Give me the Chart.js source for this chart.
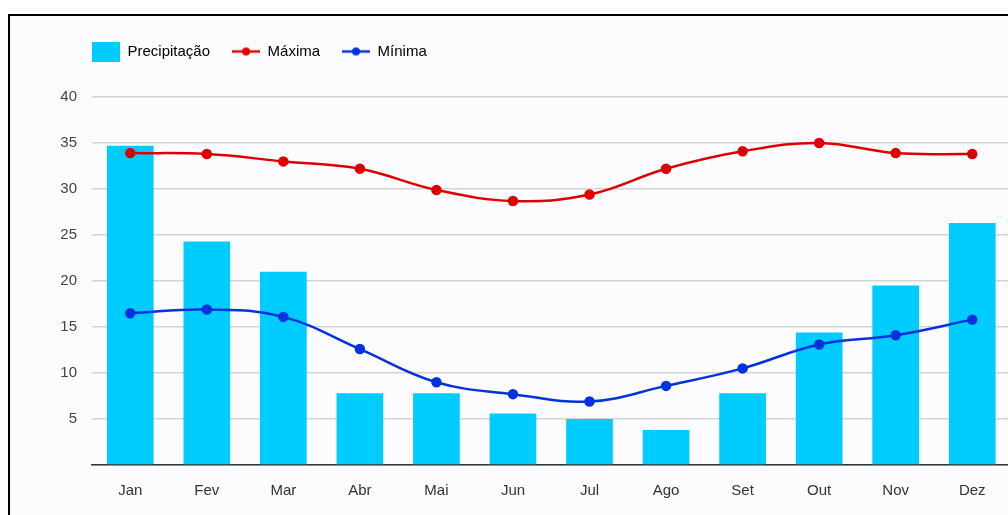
<!DOCTYPE html>
<html>
<head>
<meta charset="utf-8">
<script src="https://cdn.jsdelivr.net/npm/chart.js@4"></script>
<style>
body { margin: 0; background: #fff; overflow: hidden; }
#frame { position: absolute; left: 8px; top: 14px; width: 1100px; height: 600px;
	border-top: 2px solid #000; border-left: 2px solid #000; background: #fcfcfe; }
#wrap { position: absolute; left: 10px; top: 16px; width: 1007px; height: 501px; }
</style>
</head>
<body>
<div id="frame"></div>
<div id="wrap"><canvas id="myChart"></canvas></div>
<script>
var months = ['Jan', 'Fev', 'Mar', 'Abr', 'Mai', 'Jun', 'Jul', 'Ago', 'Set', 'Out', 'Nov', 'Dez'];
var precipitacao = [34.7, 24.3, 21.0, 7.8, 7.8, 5.6, 5.0, 3.8, 7.8, 14.4, 19.5, 26.3];
var maxima = [33.9, 33.8, 33.0, 32.2, 29.9, 28.7, 29.4, 32.2, 34.1, 35.0, 33.9, 33.8];
var minima = [16.5, 16.9, 16.1, 12.6, 9.0, 7.7, 6.9, 8.6, 10.5, 13.1, 14.1, 15.8];
var yTicks = [0, 5, 10, 15, 20, 25, 30, 35, 40];

var barColor = '#00ccff';
var redColor = '#dd0000';
var blueColor = '#0033dd';
var fontFamily = 'Liberation Sans, Arial, sans-serif';

// little pictures for the legend markers
function boxIcon(color) {
	var c = document.createElement('canvas');
	c.width = 28; c.height = 20;
	var g = c.getContext('2d');
	g.fillStyle = color;
	g.fillRect(0, 0, 28, 20);
	return c;
}
function lineIcon(color) {
	var c = document.createElement('canvas');
	c.width = 28; c.height = 10;
	var g = c.getContext('2d');
	g.strokeStyle = color;
	g.lineWidth = 2.5;
	g.beginPath(); g.moveTo(0, 5); g.lineTo(28, 5); g.stroke();
	g.fillStyle = color;
	g.beginPath(); g.arc(14, 5, 4, 0, Math.PI * 2); g.fill();
	return c;
}
var icons = [boxIcon(barColor), lineIcon(redColor), lineIcon(blueColor)];

// fixed legend height, and legend pushed right to line up with the plot
var legendPlace = {
	id: 'legendPlace',
	beforeInit: function(chart) {
		var fit = chart.legend.fit;
		chart.legend.fit = function() {
			fit.bind(chart.legend)();
			this.height = 75;
		};
	},
	afterLayout: function(chart) {
		chart.legend.left = 60;
	}
};

var ctx = document.getElementById('myChart').getContext('2d');
var chart = new Chart(ctx, {
	type: 'bar',
	data: {
		labels: months,
		datasets: [{
			type: 'bar',
			label: 'Precipitação',
			data: precipitacao,
			backgroundColor: barColor,
			barPercentage: 0.61,
			categoryPercentage: 1,
			order: 3
		}, {
			type: 'line',
			label: 'Máxima',
			data: maxima,
			borderColor: redColor,
			backgroundColor: redColor,
			borderWidth: 2.5,
			pointRadius: 4,
			tension: 0.4,
			order: 1
		}, {
			type: 'line',
			label: 'Mínima',
			data: minima,
			borderColor: blueColor,
			backgroundColor: blueColor,
			borderWidth: 2.5,
			pointRadius: 4,
			tension: 0.4,
			order: 2
		}]
	},
	plugins: [legendPlace],
	options: {
		responsive: true,
		maintainAspectRatio: false,
		animation: false,
		layout: { padding: { left: 0, top: 6, right: 0, bottom: 0 } },
		plugins: {
			tooltip: { enabled: false },
			legend: {
				position: 'top',
				align: 'start',
				labels: {
					usePointStyle: true,
					pointStyleWidth: 28,
					padding: 22,
					color: '#333',
					font: { family: fontFamily, size: 15 },
					generateLabels: function(chart) {
						return chart.data.datasets.map(function(ds, i) {
							return {
								text: ds.label,
								pointStyle: icons[i],
								fillStyle: ds.backgroundColor,
								strokeStyle: ds.borderColor,
								lineWidth: 0,
								hidden: !chart.isDatasetVisible(i),
								datasetIndex: i
							};
						});
					}
				}
			}
		},
		scales: {
			x: {
				grid: { display: false, drawTicks: false },
				border: { color: '#333', width: 1.5 },
				ticks: {
					color: '#333',
					padding: 17,
					font: { family: fontFamily, size: 15 }
				}
			},
			y: {
				min: 0,
				max: 40,
				afterFit: function(scale) { scale.width = 82; },
				afterBuildTicks: function(scale) {
					scale.ticks = yTicks.map(function(v) { return { value: v }; });
				},
				border: { display: false },
				grid: { color: '#d4d4d4', lineWidth: 1.5, drawTicks: false },
				ticks: {
					color: '#444',
					padding: 15,
					font: { family: fontFamily, size: 15 },
					callback: function(v) { return v === 0 ? '' : v; }
				}
			}
		}
	}
});
</script>
</body>
</html>
